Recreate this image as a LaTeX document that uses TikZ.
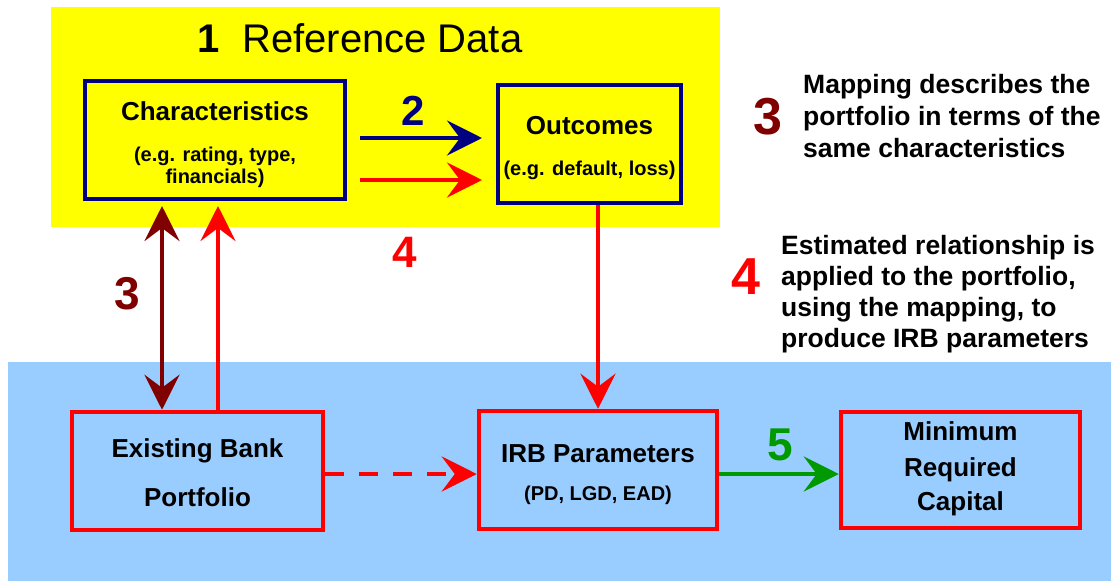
\documentclass[tikz,border=0pt]{standalone}
\usepackage{fontspec}
\setmainfont{Liberation Sans}
\usetikzlibrary{arrows.meta,calc}

\definecolor{bgyellow}{HTML}{FFFF00}
\definecolor{bgblue}{HTML}{99CCFF}
\definecolor{navy}{HTML}{000080}
\definecolor{darkred}{HTML}{800000}
\definecolor{brightred}{HTML}{FF0000}
\definecolor{stepgreen}{HTML}{009900}

\tikzset{
  navybox/.style={draw=navy, line width=4pt, minimum height=118pt, inner sep=0pt},
  redbox/.style={draw=brightred, line width=4.5pt, minimum height=118pt, inner sep=0pt},
  head/.style={anchor=base, inner sep=0pt, font=\fontsize{26}{30}\selectfont\bfseries},
  sub/.style={anchor=base, inner sep=0pt, font=\fontsize{20}{24}\selectfont\bfseries},
  note/.style={anchor=base west, inner sep=0pt, font=\fontsize{26.5}{32}\selectfont\bfseries},
  stepnum/.style={inner sep=0pt, font=\fontsize{44}{50}\selectfont\bfseries},
  bigtip/.tip={Stealth[length=35pt,width=35pt,inset=13pt]},
  flow/.style={line width=4.5pt, -bigtip},
  twoway/.style={line width=4.5pt, bigtip-bigtip},
}

\begin{document}
\begin{tikzpicture}[x=1pt,y=-1pt]
  \useasboundingbox (0,0) rectangle (1111,581);
  \fill[white] (0,0) rectangle (1111,581);

  % background panels
  \fill[bgyellow] (51,7) rectangle (720,227);
  \fill[bgblue] (8,362) rectangle (1111,581);

  % title
  \node[inner sep=0pt, anchor=base, font=\fontsize{40}{48}\selectfont\bfseries] (one) at (209,52) {1};
  \node[inner sep=0pt, anchor=base west, font=\fontsize{40}{48}\selectfont] (title) at (242,52) {Reference Data};

  % reference data boxes
  \node[navybox, minimum width=260pt] (char) at (215,140) {};
  \node[head] (charA) at ($(char.center)+(0,-20)$) {Characteristics};
  \node[sub]  (charB) at ($(char.center)+(0,21)$) {(e.g. rating, type,};
  \node[sub]  (charC) at ($(char.center)+(0,43)$) {financials)};

  \node[navybox, minimum width=183pt] (out) at (589.5,144) {};
  \node[head] (outA) at ($(out.center)+(0,-10)$) {Outcomes};
  \node[sub]  (outB) at ($(out.center)+(0,31)$) {(e.g. default, loss)};

  % portfolio boxes
  \node[redbox, minimum width=251pt] (ex) at (197.5,471) {};
  \node[head] (exA) at ($(ex.center)+(0,-14)$) {Existing Bank};
  \node[head] (exB) at ($(ex.center)+(0,35)$) {Portfolio};

  \node[redbox, minimum width=238pt] (irb) at (598,470) {};
  \node[head] (irbA) at ($(irb.center)+(0,-8)$) {IRB Parameters};
  \node[sub]  (irbB) at ($(irb.center)+(0,30)$) {(PD, LGD, EAD)};

  \node[redbox, minimum width=239pt, minimum height=116pt] (cap) at (960.5,470) {};
  \node[head] (capA) at ($(cap.center)+(0,-30)$) {Minimum};
  \node[head] (capB) at ($(cap.center)+(0,6)$) {Required};
  \node[head] (capC) at ($(cap.center)+(0,40)$) {Capital};

  % connectors
  \draw[flow, navy] ([xshift=13pt,yshift=2pt]char.east) -- ([xshift=-14pt,yshift=6pt]out.west);
  \draw[flow, brightred] ([xshift=13pt,yshift=-40pt]char.east) -- ([xshift=-14pt,yshift=-36pt]out.west);

  \coordinate (mapfoot) at ([xshift=-35.5pt]ex.north);
  \draw[twoway, darkred] (mapfoot) -- ($(mapfoot |- char.south)+(0,5)$);

  \coordinate (applyfoot) at ([xshift=20.5pt]ex.north);
  \draw[flow, brightred] (applyfoot) -- ($(applyfoot |- char.south)+(0,5)$);

  \draw[flow, brightred] (out.south -| irb.north) -- (irb.north);

  \draw[flow, brightred, dash pattern=on 19pt off 15pt] ([yshift=-3pt]ex.east) -- ([yshift=-4pt]irb.west);
  \draw[flow, stepgreen] ([yshift=-4pt]irb.east) -- ([yshift=-4pt]cap.west);

  % step numbers
  \node[stepnum, navy, font=\fontsize{42}{48}\selectfont\bfseries] (n2) at (413,111) {2};
  \node[stepnum, brightred] (n4a) at (405,252) {4};
  \node[stepnum, darkred, font=\fontsize{46}{52}\selectfont\bfseries] (n3a) at (127,294) {3};
  \node[stepnum, stepgreen, font=\fontsize{46}{52}\selectfont\bfseries] (n5) at (780,445) {5};
  \node[stepnum, darkred, font=\fontsize{52}{58}\selectfont\bfseries] (n3b) at (768,117) {3};
  \node[stepnum, brightred, font=\fontsize{52}{58}\selectfont\bfseries] (n4b) at (746,277) {4};

  % explanatory notes
  \node[note] (m1) at (803,93)  {Mapping describes the};
  \node[note] (m2) at (803,125) {portfolio in terms of the};
  \node[note] (m3) at (803,157) {same characteristics};

  \node[note] (e1) at (781,254) {Estimated relationship is};
  \node[note] (e2) at (781,285) {applied to the portfolio,};
  \node[note] (e3) at (781,316) {using the mapping, to};
  \node[note] (e4) at (781,347) {produce IRB parameters};
\end{tikzpicture}
\end{document}
